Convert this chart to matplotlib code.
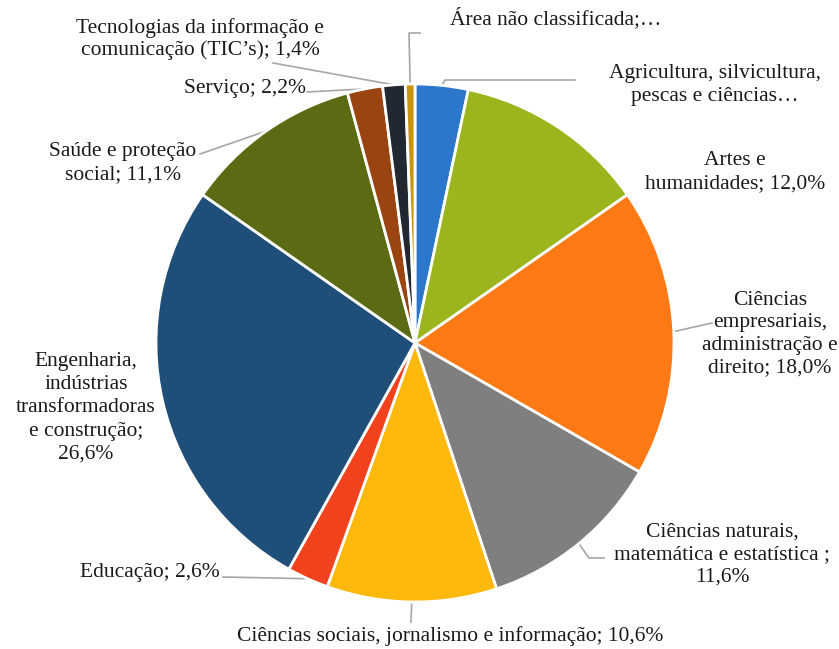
import numpy as np
import matplotlib
matplotlib.use("Agg")
import matplotlib.pyplot as plt

plt.rcParams['font.family'] = ['Liberation Serif', 'DejaVu Serif']

# Data (clockwise from 12 o'clock)
categories = [
    "Agricultura, silvicultura,\npescas e ciências…",
    "Artes e\nhumanidades; 12,0%",
    "Ciências\nempresariais,\nadministração e\ndireito; 18,0%",
    "Ciências naturais,\nmatemática e estatística ;\n11,6%",
    "Ciências sociais, jornalismo e informação; 10,6%",
    "Educação; 2,6%",
    "Engenharia,\nindústrias\ntransformadoras\ne construção;\n26,6%",
    "Saúde e proteção\nsocial; 11,1%",
    "Serviço; 2,2%",
    "Tecnologias da informação e\ncomunicação (TIC’s); 1,4%",
    "Área não classificada;…",
]
values = [3.3, 12.0, 18.0, 11.6, 10.6, 2.6, 26.6, 11.1, 2.2, 1.4, 0.6]
colors = ["#2C76CC", "#9BB51C", "#FF7A14", "#7F7F7F", "#FFB80C", "#F2411D",
          "#1F4E79", "#5B6B14", "#9A4511", "#222831", "#C8950F"]

W, H = 839, 649
cx, cy, r = 415, H - 343, 259


def px(x, y):
    return (x, H - y)


# label layout: text anchor (pixel coords), alignment, line spacing, leader path
labels = [
    dict(pos=(715, 85), ls=1.25, path=[(445, 80), (575, 80)]),
    dict(pos=(735, 172), ls=1.25, path=None),
    dict(pos=(770, 334), ls=1.25, path=[(712, 323)]),
    dict(pos=(722, 555), ls=1.25, path=[(589, 558), (604, 558)]),
    dict(pos=(450, 636), ls=1.25, path=[(411, 622)]),
    dict(pos=(150, 573), ls=1.25, path=[(223, 577)]),
    dict(pos=(86, 408), ls=1.3, path=None),
    dict(pos=(123, 163), ls=1.3, path=[(200, 154)]),
    dict(pos=(245, 88), ls=1.25, path=[(307, 92)]),
    dict(pos=(200, 39), ls=1.1, path=[(273, 63)]),
    dict(pos=(450, 18), ls=1.25, path=[(409, 33), (420, 33)], ha='left'),
]

fig = plt.figure(figsize=(W / 100, H / 100), dpi=100)
ax = fig.add_axes([0, 0, 1, 1])

wedges, _ = ax.pie(values, colors=colors, startangle=90, counterclock=False,
                   center=(cx, cy), radius=r,
                   wedgeprops=dict(edgecolor='white', linewidth=2))
ax.set_xlim(0, W)
ax.set_ylim(0, H)
ax.set_aspect('equal')
ax.axis('off')

for w, lab, txt in zip(wedges, labels, categories):
    if lab['path']:
        mid = np.deg2rad((w.theta1 + w.theta2) / 2)
        xs = [cx + r * np.cos(mid)] + [p[0] for p in lab['path']]
        ys = [cy + r * np.sin(mid)] + [H - p[1] for p in lab['path']]
        ax.plot(xs, ys, color='#A6A6A6', lw=1.2, zorder=0)
    ax.text(*px(*lab['pos']), txt, ha=lab.get('ha', 'center'), va='center',
            fontsize=15.5, linespacing=lab['ls'], color='#1A1A1A')

fig.savefig('out.png', dpi=100)
